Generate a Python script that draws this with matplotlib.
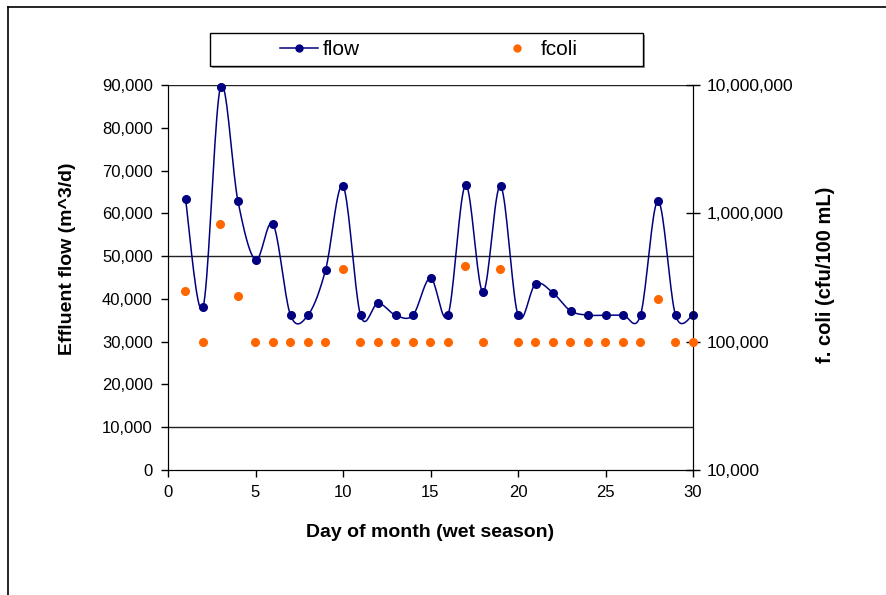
import numpy as np
import matplotlib
matplotlib.use('Agg')
import matplotlib.pyplot as plt
from matplotlib.lines import Line2D
from matplotlib.patches import Rectangle
from matplotlib.ticker import FuncFormatter, FixedLocator, NullLocator

plt.rcParams['font.family'] = ['Liberation Sans', 'DejaVu Sans']

days = list(range(1, 31))
flow = [63300, 38000, 89500, 62800, 49100, 57500, 36200, 36200, 46700, 66400,
        36200, 39000, 36200, 36200, 44900, 36200, 66600, 41600, 66400, 36200,
        43500, 41400, 37200, 36200, 36200, 36200, 36200, 62900, 36200, 36200]
fcoli = [250000, 100000, 820000, 225000, 100000, 100000, 100000, 100000, 100000, 370000,
         100000, 100000, 100000, 100000, 100000, 100000, 390000, 100000, 370000, 100000,
         100000, 100000, 100000, 100000, 100000, 100000, 100000, 215000, 100000, 100000]


def smooth(x, y, n=20):
    # excel-like smoothed line (catmull-rom as bezier)
    x = np.asarray(x, float)
    y = np.asarray(y, float)
    xs, ys = [], []
    for i in range(len(x) - 1):
        i0 = max(i - 1, 0)
        i3 = min(i + 2, len(x) - 1)
        p0, p1, p2, p3 = (np.array([x[j], y[j]]) for j in (i0, i, i + 1, i3))
        c1 = p1 + (p2 - p0) / 6
        c2 = p2 - (p3 - p1) / 6
        t = np.linspace(0, 1, n)[:, None]
        pts = ((1 - t) ** 3) * p1 + 3 * ((1 - t) ** 2) * t * c1 + 3 * (1 - t) * t ** 2 * c2 + t ** 3 * p2
        xs.extend(pts[:, 0])
        ys.extend(pts[:, 1])
    return xs, ys


fig = plt.figure(figsize=(8.86, 5.95), dpi=100)
ax = fig.add_axes([168 / 886, 1 - 470 / 595, 525 / 886, 385 / 595])

sx, sy = smooth(days, flow)
ax.plot(sx, sy, color='#000080', lw=1.1, clip_on=False, zorder=3)
ax.plot(days, flow, 'o', color='#000080', ms=5.5, clip_on=False, zorder=4)

ax.set_xlim(0, 30)
ax.set_ylim(0, 90000)
ax.set_xticks(range(0, 31, 5))
ax.set_yticks(range(0, 90001, 10000))
ax.yaxis.set_major_formatter(FuncFormatter(lambda v, p: f'{v:,.0f}'))
for g in [10000, 50000, 90000]:
    ax.axhline(g, color='#222222', lw=1, zorder=1)
ax.tick_params(labelsize=12, length=5, width=1, direction='out', pad=6)
ax.spines['top'].set_visible(False)
ax.set_xlabel('Day of month (wet season)', fontsize=14, fontweight='bold')
ax.xaxis.set_label_coords(0.5, -0.1636)
ax.xaxis.label.set_va('center')
ax.set_ylabel('Effluent flow (m^3/d)', fontsize=14, fontweight='bold')
ax.yaxis.set_label_coords(-0.1905, 0.548)
ax.yaxis.label.set_va('center')

ax2 = ax.twinx()
ax2.set_yscale('log')
ax2.set_ylim(1e4, 1e7)
ax2.plot(days, fcoli, 'o', color='#FF6600', ms=5.5, clip_on=False, zorder=5)
ax2.yaxis.set_major_locator(FixedLocator([1e4, 1e5, 1e6, 1e7]))
ax2.yaxis.set_minor_locator(NullLocator())
ax2.yaxis.set_major_formatter(FuncFormatter(lambda v, p: f'{v:,.0f}'))
ax2.tick_params(labelsize=12.5, length=10, width=1, direction='inout', pad=5)
ax2.spines['top'].set_visible(False)
ax2.set_ylabel('f. coli (cfu/100 mL)', fontsize=14.5, fontweight='bold')
ax2.yaxis.set_label_coords(1.2515, 0.506)
ax2.yaxis.label.set_va('center')

# legend box
fig.patches.append(Rectangle((212 / 886, 1 - 68 / 595), 433 / 886, 33 / 595,
                             transform=fig.transFigure, facecolor='#999999', edgecolor='none'))
fig.patches.append(Rectangle((210 / 886, 1 - 66 / 595), 433 / 886, 33 / 595,
                             transform=fig.transFigure, facecolor='white', edgecolor='black', lw=1))
h1 = Line2D([], [], color='#000080', marker='o', ms=5, lw=1.1)
h2 = Line2D([], [], color='#FF6600', marker='o', ms=5, lw=0)
fig.legend([h1, h2], ['flow', 'fcoli'], loc='center', bbox_to_anchor=(429 / 886, 1 - 49.5 / 595),
           ncol=2, frameon=False, fontsize=15, columnspacing=6.6, handlelength=1.8, handletextpad=0.25)

# outer chart border
fig.add_artist(Line2D([8 / 886, 8 / 886], [0, 1 - 7 / 595], transform=fig.transFigure, color='black', lw=1.2))
fig.add_artist(Line2D([8 / 886, 1], [1 - 7 / 595, 1 - 7 / 595], transform=fig.transFigure, color='black', lw=1.2))

plt.savefig('out.png', dpi=100)
plt.close(fig)
